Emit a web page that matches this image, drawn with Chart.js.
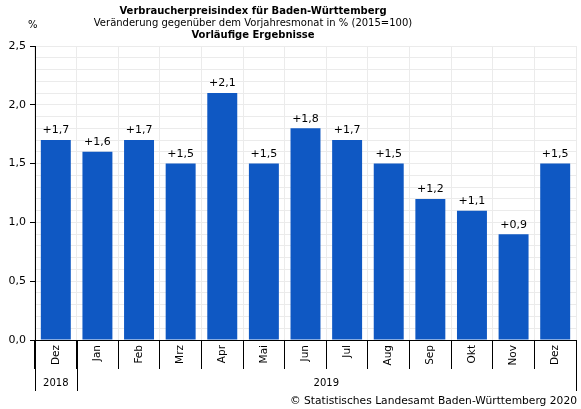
<!DOCTYPE html>
<html>
<head>
<meta charset="utf-8">
<script src="https://cdn.jsdelivr.net/npm/chart.js@4/dist/chart.umd.min.js"></script>
<style>
  html, body { margin: 0; padding: 0; background: #fff; }
  #wrap { position: relative; width: 581px; height: 409px; font-family: "DejaVu Sans", sans-serif; color: #000; }
  #chart { position: absolute; left: 0; top: 0; }
  .t { position: absolute; white-space: nowrap; font-size: 10px; line-height: 12px; }
  .c { transform: translateX(-50%); }
  .b { font-weight: bold; }
</style>
</head>
<body>
<div id="wrap">
  <canvas id="chart" width="581" height="409"></canvas>
  <div class="t c b" style="left:253px; top:5px;">Verbraucherpreisindex für Baden-Württemberg</div>
  <div class="t c" style="left:253px; top:17px;">Veränderung gegenüber dem Vorjahresmonat in % (2015=100)</div>
  <div class="t c b" style="left:253px; top:29px;">Vorläufige Ergebnisse</div>
  <div class="t" style="left:28px; top:19px;">%</div>
  <div class="t" style="right:4px; top:395px; font-size:10.7px;">© Statistisches Landesamt Baden-Württemberg 2020</div>
</div>
<script>
const months = ['Dez', 'Jan', 'Feb', 'Mrz', 'Apr', 'Mai', 'Jun', 'Jul', 'Aug', 'Sep', 'Okt', 'Nov', 'Dez'];
const values = [1.7, 1.6, 1.7, 1.5, 2.1, 1.5, 1.8, 1.7, 1.5, 1.2, 1.1, 0.9, 1.5];
// year groups: label, first and last month index
const years = [
  { label: '2018', from: 0, to: 0 },
  { label: '2019', from: 1, to: 12 },
];

const fmt = v => v.toFixed(1).replace('.', ',');

// value labels above bars + year row under the month labels
const extras = {
  id: 'extras',
  afterDatasetsDraw(chart) {
    const ctx = chart.ctx;
    const meta = chart.getDatasetMeta(0);
    ctx.save();
    ctx.font = '11px "DejaVu Sans"';
    ctx.fillStyle = '#000';
    ctx.textAlign = 'center';
    ctx.textBaseline = 'bottom';
    meta.data.forEach((bar, i) => {
      ctx.fillText('+' + fmt(values[i]), bar.x, bar.y - 4);
    });
    ctx.restore();
  },
  afterDraw(chart) {
    const ctx = chart.ctx;
    const x = chart.scales.x;
    const top = chart.chartArea.bottom;
    const half = (x.getPixelForValue(1) - x.getPixelForValue(0)) / 2;
    ctx.save();
    ctx.strokeStyle = '#000';
    ctx.lineWidth = 1;
    ctx.font = '10px "DejaVu Sans"';
    ctx.fillStyle = '#000';
    ctx.textAlign = 'center';
    ctx.textBaseline = 'middle';
    years.forEach(y => {
      const l = x.getPixelForValue(y.from) - half;
      const r = x.getPixelForValue(y.to) + half;
      [l, r].forEach(px => {
        const p = Math.round(px) + 0.5;
        ctx.beginPath();
        ctx.moveTo(p, top);
        ctx.lineTo(p, top + 51);
        ctx.stroke();
      });
      ctx.fillText(y.label, (l + r) / 2, top + 43);
    });
    ctx.restore();
  }
};

new Chart(document.getElementById('chart'), {
  type: 'bar',
  data: {
    labels: months,
    datasets: [{
      data: values,
      backgroundColor: '#0f58c3',
      barPercentage: 0.72,
      categoryPercentage: 1,
    }]
  },
  options: {
    responsive: false,
    animation: false,
    layout: { padding: { top: 46, right: 5, left: 0, bottom: 0 } },
    plugins: { legend: { display: false }, tooltip: { enabled: false } },
    scales: {
      x: {
        offset: true,
        grid: { offset: true, color: '#ebebeb', tickColor: '#000', tickLength: 29, drawOnChartArea: true },
        border: { color: '#000' },
        ticks: {
          color: '#000', font: { family: 'DejaVu Sans', size: 10.5 },
          minRotation: 90, maxRotation: 90, autoSkip: false, padding: -24,
        },
        afterFit(s) { s.height = 69; },
      },
      y: {
        min: 0, max: 2.5,
        grid: {
          color: '#ebebeb',
          tickColor: c => (Math.round(c.tick.value * 10) % 5 === 0 ? '#000' : 'rgba(0,0,0,0)'),
          tickLength: 5,
        },
        border: { color: '#000' },
        ticks: {
          stepSize: 0.1, autoSkip: false, color: '#000', padding: 4,
          font: { family: 'DejaVu Sans', size: 11 },
          callback: v => (Math.round(v * 10) % 5 === 0 ? fmt(v) : ''),
        },
        afterFit(s) { s.width = 35; },
      }
    }
  },
  plugins: [extras]
});
</script>
</body>
</html>
